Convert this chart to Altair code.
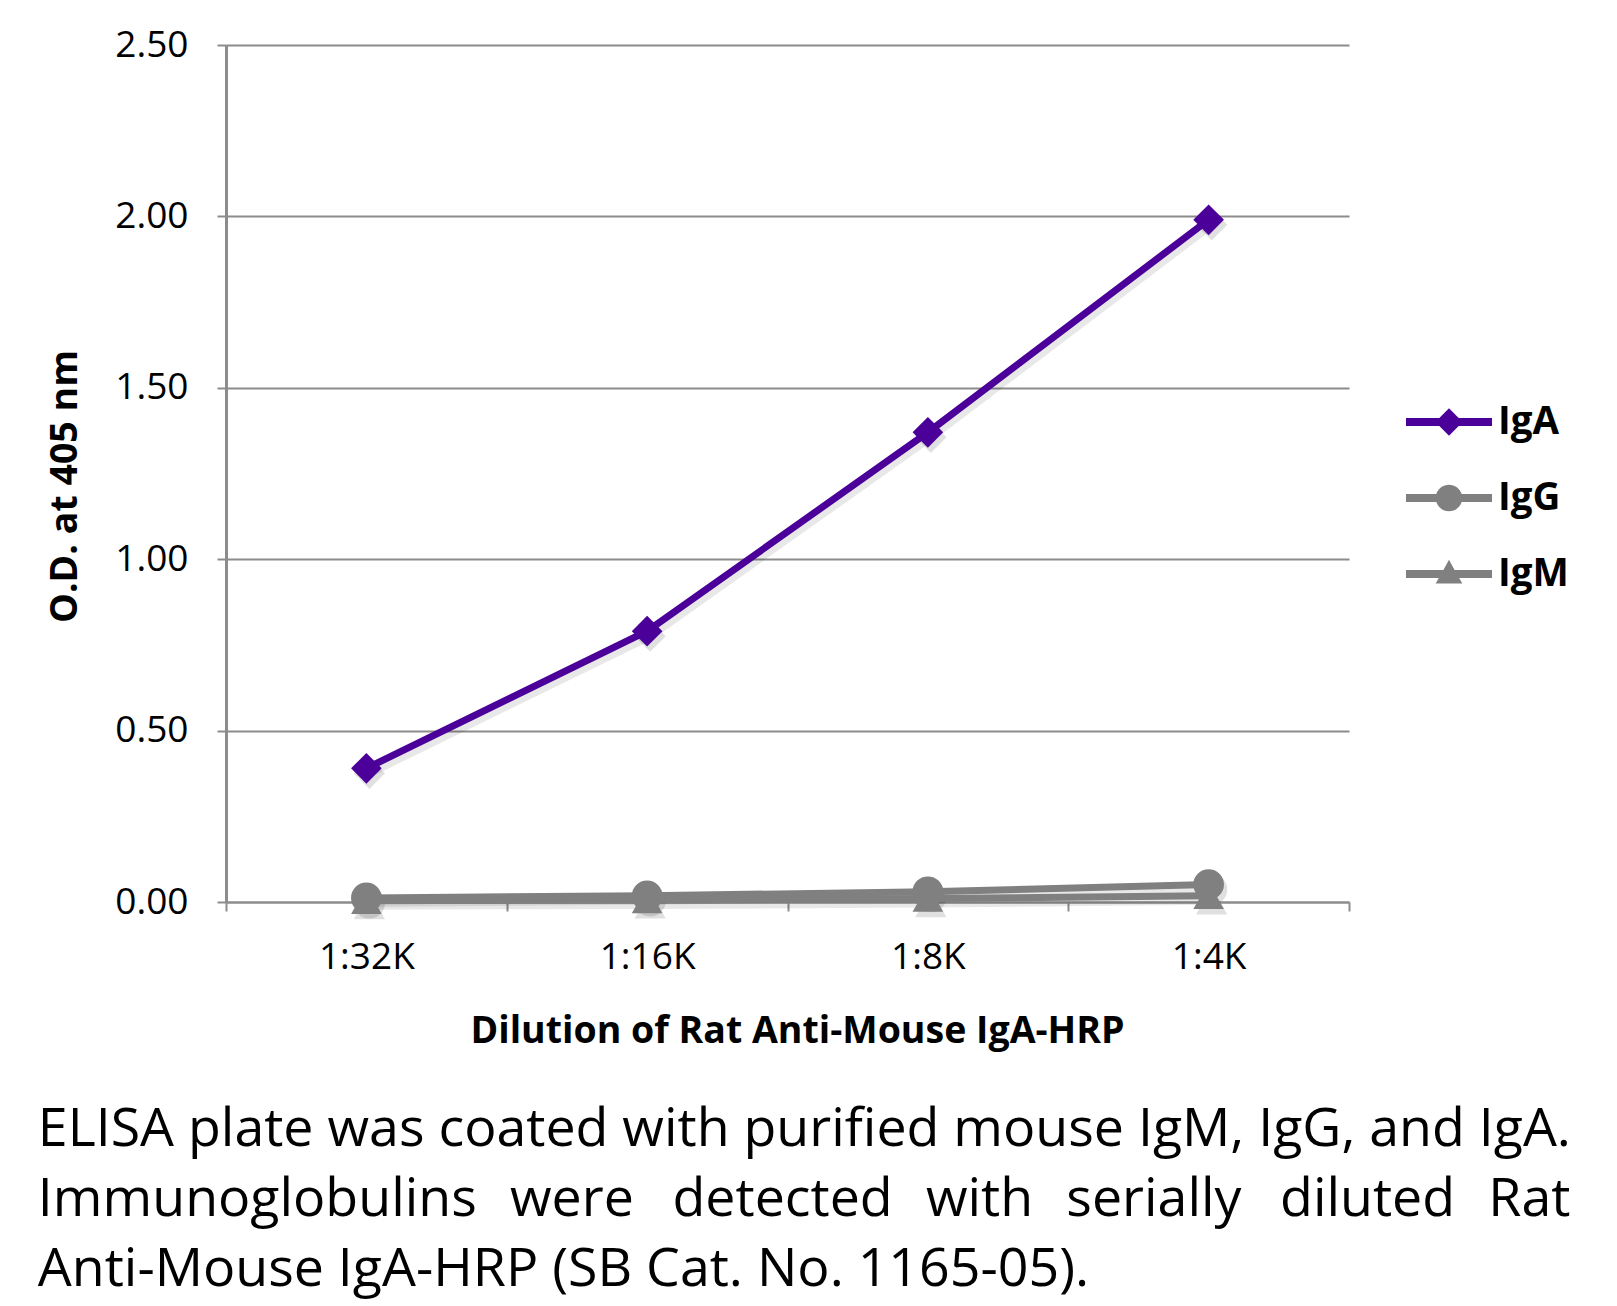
import altair as alt
import pandas as pd

dilutions = ["1:32K", "1:16K", "1:8K", "1:4K"]
series_names = ["IgA", "IgG", "IgM"]
iga = [0.39, 0.79, 1.37, 1.99]
igg = [0.012, 0.018, 0.030, 0.051]
igm = [0.004, 0.006, 0.010, 0.018]
colors = ["#4B0099", "#808080", "#808080"]
y_ticks = [0, 0.5, 1.0, 1.5, 2.0, 2.5]

GAP = " \u00a0\u200a"
GAP2 = " \u00a0\u200a\u200a"
caption = [
    "ELISA plate was coated with purified mouse IgM, IgG, and IgA.",
    "Immunoglobulins" + GAP + "were" + GAP2 + "detected" + GAP + "with" + GAP
    + "serially" + GAP2 + "diluted" + GAP + "Rat",
    "Anti-Mouse IgA-HRP (SB Cat. No. 1165-05).",
]

rows = []
for name, vals in [("IgM", igm), ("IgG", igg), ("IgA", iga)]:
    for d, v in zip(dilutions, vals):
        rows.append({"series": name, "dilution": d, "od": v})
df = pd.DataFrame(rows)

FONT = "Open Sans"

# legend symbols: line segment with marker (unit box -1..1)
diamond_path = ("M-1,-0.095L-0.225,-0.095L0,-0.32L0.225,-0.095L1,-0.095L1,0.095"
                "L0.225,0.095L0,0.32L-0.225,0.095L-1,0.095Z")
circle_path = ("M-1,-0.095L-0.295,-0.095A0.31,0.31 0 0,1 0.295,-0.095L1,-0.095L1,0.095"
               "L0.295,0.095A0.31,0.31 0 0,1 -0.295,0.095L-1,0.095Z")
triangle_path = ("M-1,-0.095L-0.13,-0.095L0,-0.33L0.13,-0.095L1,-0.095L1,0.095"
                 "L0.236,0.095L0.31,0.22L-0.31,0.22L-0.236,0.095L-1,0.095Z")

color_of = dict(zip(series_names, colors))
shape_of = {"IgA": "diamond", "IgG": "circle", "IgM": "triangle-up"}

x_enc = alt.X(
    "dilution:N",
    sort=dilutions,
    bandPosition=0.5,
    scale=alt.Scale(type="band", paddingInner=0, paddingOuter=0),
    axis=alt.Axis(
        title="Dilution of Rat Anti-Mouse IgA-HRP",
        titleFont=FONT, titleFontSize=37.5, titleFontWeight="bold", titleColor="black",
        titlePadding=37, titleX=571,
        labelFont=FONT, labelFontSize=37, labelColor="black", labelPadding=28,
        labelAngle=0,
        tickBand="extent", tickSize=9, tickColor="#8c8c8c", tickWidth=2,
        domainColor="#8c8c8c", domainWidth=2, grid=False,
    ),
)
y_enc = alt.Y(
    "od:Q",
    scale=alt.Scale(domain=[0, 2.5], nice=False),
    axis=alt.Axis(
        title="O.D. at 405 nm",
        titleFont=FONT, titleFontSize=37.5, titleFontWeight="bold", titleColor="black",
        titlePadding=30, titleY=441,
        values=y_ticks, format=".2f",
        labelFont=FONT, labelFontSize=37, labelColor="black", labelPadding=29,
        tickSize=9, tickColor="#8c8c8c", tickWidth=2,
        domainColor="#8c8c8c", domainWidth=3,
        grid=True, gridColor="#8c8c8c", gridWidth=2,
    ),
)

base = alt.Chart(df)

layers = []
# soft shadows
for name in ["IgM", "IgG", "IgA"]:
    sub = base.transform_filter(alt.datum.series == name)
    layers.append(sub.mark_line(strokeWidth=8, strokeCap="round", color="black",
                                opacity=0.09, xOffset=3, yOffset=5).encode(x=x_enc, y=y_enc))
    layers.append(sub.mark_point(shape=shape_of[name], filled=True, size=980, color="black",
                                 opacity=0.12, xOffset=3, yOffset=5).encode(x=x_enc, y=y_enc))
# series lines and markers
for name in ["IgM", "IgG", "IgA"]:
    sub = base.transform_filter(alt.datum.series == name)
    layers.append(sub.mark_line(strokeWidth=7, strokeCap="round", strokeJoin="round",
                                color=color_of[name]).encode(x=x_enc, y=y_enc))
    layers.append(sub.mark_point(shape=shape_of[name], filled=True, size=940, opacity=1,
                                 color=color_of[name]).encode(x=x_enc, y=y_enc))

leg = alt.Legend(
    title=None, orient="none", legendX=1180, legendY=334, padding=0,
    symbolSize=7396, symbolStrokeWidth=0, symbolOpacity=1, symbolOffset=0,
    labelFont=FONT, labelFontSize=38.5, labelFontWeight="bold", labelColor="black",
    labelOffset=6, rowPadding=13,
)
legend_layer = base.mark_point(filled=True, opacity=1, size=0).encode(
    x=x_enc, y=y_enc,
    color=alt.Color("series:N", scale=alt.Scale(domain=series_names, range=colors), legend=leg),
    shape=alt.Shape("series:N",
                    scale=alt.Scale(domain=series_names,
                                    range=[diamond_path, circle_path, triangle_path]),
                    legend=leg),
)
layers.append(legend_layer)

chart = alt.layer(*layers).properties(
    width=1123, height=857,
    autosize=alt.AutoSizeParams(type="none"),
    padding={"left": 226, "top": 45, "right": 268, "bottom": 404},
    background="white",
    title=alt.TitleParams(
        text=caption, orient="bottom", anchor="start", frame="bounds",
        font=FONT, fontSize=53.7, fontWeight="normal", color="black",
        lineHeight=70, offset=54, dx=-9,
    ),
).configure_view(stroke=None)

chart.save("out.html", embed_options={"renderer": "svg", "actions": False})
